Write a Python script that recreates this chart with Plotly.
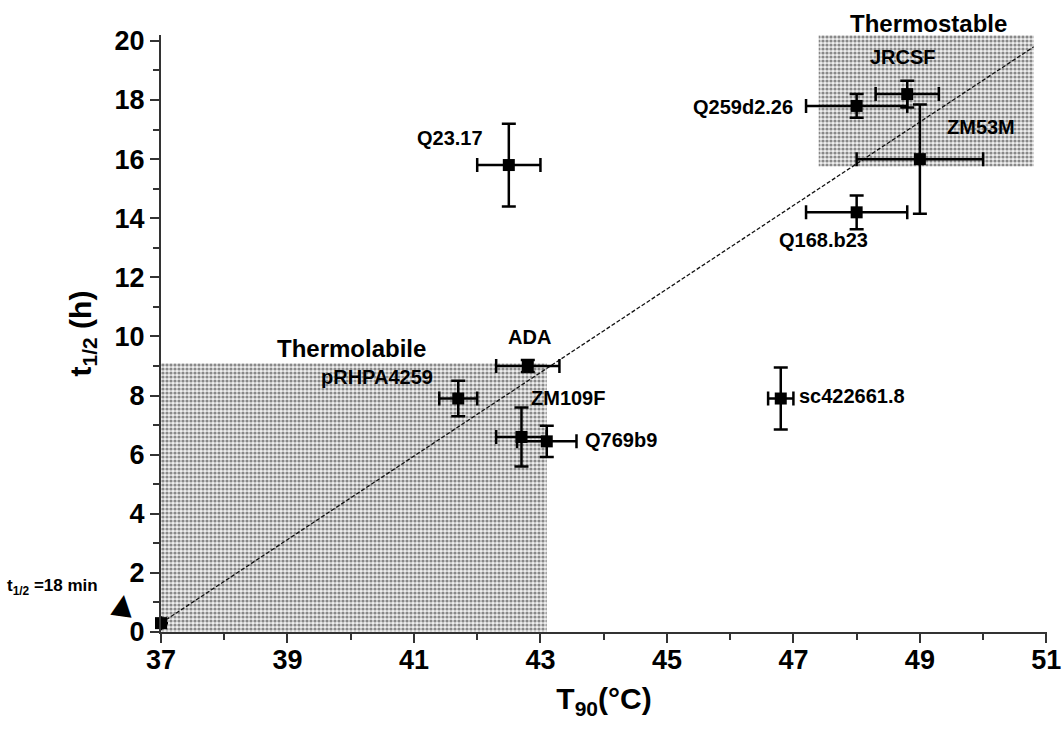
import plotly.graph_objects as go

# ---------------- data ----------------
strains = ["t1/2=18 min", "Q23.17", "JRCSF", "Q259d2.26", "ZM53M", "Q168.b23",
           "ADA", "pRHPA4259", "ZM109F", "Q769b9", "sc422661.8"]
t90 = [37.0, 42.5, 48.8, 48.0, 49.0, 48.0, 42.8, 41.7, 42.7, 43.1, 46.8]
t90_err = [0.0, 0.5, 0.5, 0.8, 1.0, 0.8, 0.5, 0.3, 0.4, 0.47, 0.2]
t_half = [0.3, 15.8, 18.2, 17.8, 16.0, 14.2, 9.0, 7.9, 6.6, 6.45, 7.9]
t_half_err = [0.0, 1.4, 0.45, 0.4, 1.85, 0.57, 0.2, 0.6, 1.0, 0.53, 1.05]

fit_x = [37.0, 50.8]
fit_y = [0.3, 19.8]

labile_x = [37.0, 43.1]
labile_y = [0.0, 9.1]
stable_x = [47.4, 50.8]
stable_y = [15.75, 20.2]

x_ticks = [37, 39, 41, 43, 45, 47, 49, 51]
y_ticks = [0, 2, 4, 6, 8, 10, 12, 14, 16, 18, 20]

X_RANGE = [37, 51.01]
Y_RANGE = [0, 20.2]

FONT = "Liberation Sans, Arial, sans-serif"

fig = go.Figure()

pattern = dict(shape=".", size=4, solidity=0.5, fgcolor="#222222", bgcolor="#eeeeee")
for rx, ry in [(labile_x, labile_y), (stable_x, stable_y)]:
    fig.add_trace(go.Scatter(
        x=[rx[0], rx[1], rx[1], rx[0], rx[0]],
        y=[ry[0], ry[0], ry[1], ry[1], ry[0]],
        mode="lines", fill="toself", line=dict(width=0),
        fillcolor="rgba(0,0,0,0)", fillpattern=pattern,
        hoverinfo="skip", showlegend=False))

fig.add_trace(go.Scatter(
    x=fit_x, y=fit_y, mode="lines",
    line=dict(color="#111", width=1.3, dash="4px,2px"),
    showlegend=False, hoverinfo="skip"))

fig.add_trace(go.Scatter(
    x=t90, y=t_half, mode="markers", text=strains,
    marker=dict(symbol="square", size=12, color="black"),
    error_x=dict(type="data", array=t90_err, color="black", thickness=2.5, width=7),
    error_y=dict(type="data", array=t_half_err, color="black", thickness=2.5, width=7),
    cliponaxis=False, showlegend=False))

# labels (position in data coordinates)
labels = [
    ("Q23.17", 41.57, 16.72, 20, "center"),
    ("JRCSF", 48.74, 19.46, 20, "center"),
    ("Q259d2.26", 47.03, 17.77, 20, "right"),
    ("ZM53M", 49.96, 17.09, 20, "center"),
    ("Q168.b23", 47.47, 13.27, 20, "center"),
    ("ADA", 42.82, 9.98, 20, "center"),
    ("pRHPA4259", 40.42, 8.63, 20, "center"),
    ("ZM109F", 43.44, 7.92, 20, "center"),
    ("Q769b9", 43.68, 6.5, 20, "left"),
    ("sc422661.8", 47.05, 7.99, 20, "left"),
    ("Thermolabile", 40.02, 9.58, 24, "center"),
]
for txt, lx, ly, fs, anchor in labels:
    fig.add_annotation(x=lx, y=ly, text=f"<b>{txt}</b>", showarrow=False,
                       xanchor=anchor, yanchor="middle",
                       font=dict(family=FONT, size=fs, color="black"))

# texts lying outside the axis ranges: placed in axis-domain fractions
def dom_x(v):
    return (v - X_RANGE[0]) / (X_RANGE[1] - X_RANGE[0])

def dom_y(v):
    return (v - Y_RANGE[0]) / (Y_RANGE[1] - Y_RANGE[0])

fig.add_annotation(x=dom_x(49.14), y=dom_y(20.6), xref="x domain", yref="y domain",
                   text="<b>Thermostable</b>", showarrow=False,
                   xanchor="center", yanchor="middle",
                   font=dict(family=FONT, size=24, color="black"))
fig.add_annotation(x=dom_x(35.29), y=dom_y(1.52), xref="x domain", yref="y domain",
                   text="<b>t<sub>1/2</sub> =18 min</b>", showarrow=False,
                   xanchor="center", yanchor="middle",
                   font=dict(family=FONT, size=17, color="black"))
fig.add_annotation(x=dom_x(36.4), y=dom_y(0.95), xref="x domain", yref="y domain",
                   text="▲", showarrow=False, textangle=8,
                   xanchor="center", yanchor="middle",
                   font=dict(family="DejaVu Sans", size=28, color="black"))

axis_common = dict(
    showline=True, linecolor="#333", linewidth=2, ticks="outside",
    tickcolor="#333", tickwidth=2, ticklen=9, showgrid=False, zeroline=False,
    automargin=False,
    tickfont=dict(family=FONT, size=27, color="black", weight="bold"),
)

fig.update_xaxes(
    range=X_RANGE, tickvals=x_ticks, ticklabelstandoff=-6,
    minor=dict(ticks="outside", dtick=1, tick0=37, ticklen=6, tickcolor="#333", tickwidth=2),
    title=dict(text="<b>T<sub>90</sub>(°C)</b>", font=dict(family=FONT, size=30, color="black"), standoff=14),
    **axis_common)
fig.update_yaxes(
    range=Y_RANGE, tickvals=y_ticks,
    minor=dict(ticks="outside", dtick=1, tick0=0, ticklen=6, tickcolor="#333", tickwidth=2),
    title=dict(text="<b>t<sub>1/2</sub> (h)</b>", font=dict(family=FONT, size=30, color="black"), standoff=14),
    **axis_common)

fig.update_layout(
    width=1062, height=731,
    margin=dict(l=161, r=15, t=35, b=99),
    plot_bgcolor="white", paper_bgcolor="white",
    font=dict(family=FONT, color="black"),
    showlegend=False,
)

fig.write_html("out.html")
